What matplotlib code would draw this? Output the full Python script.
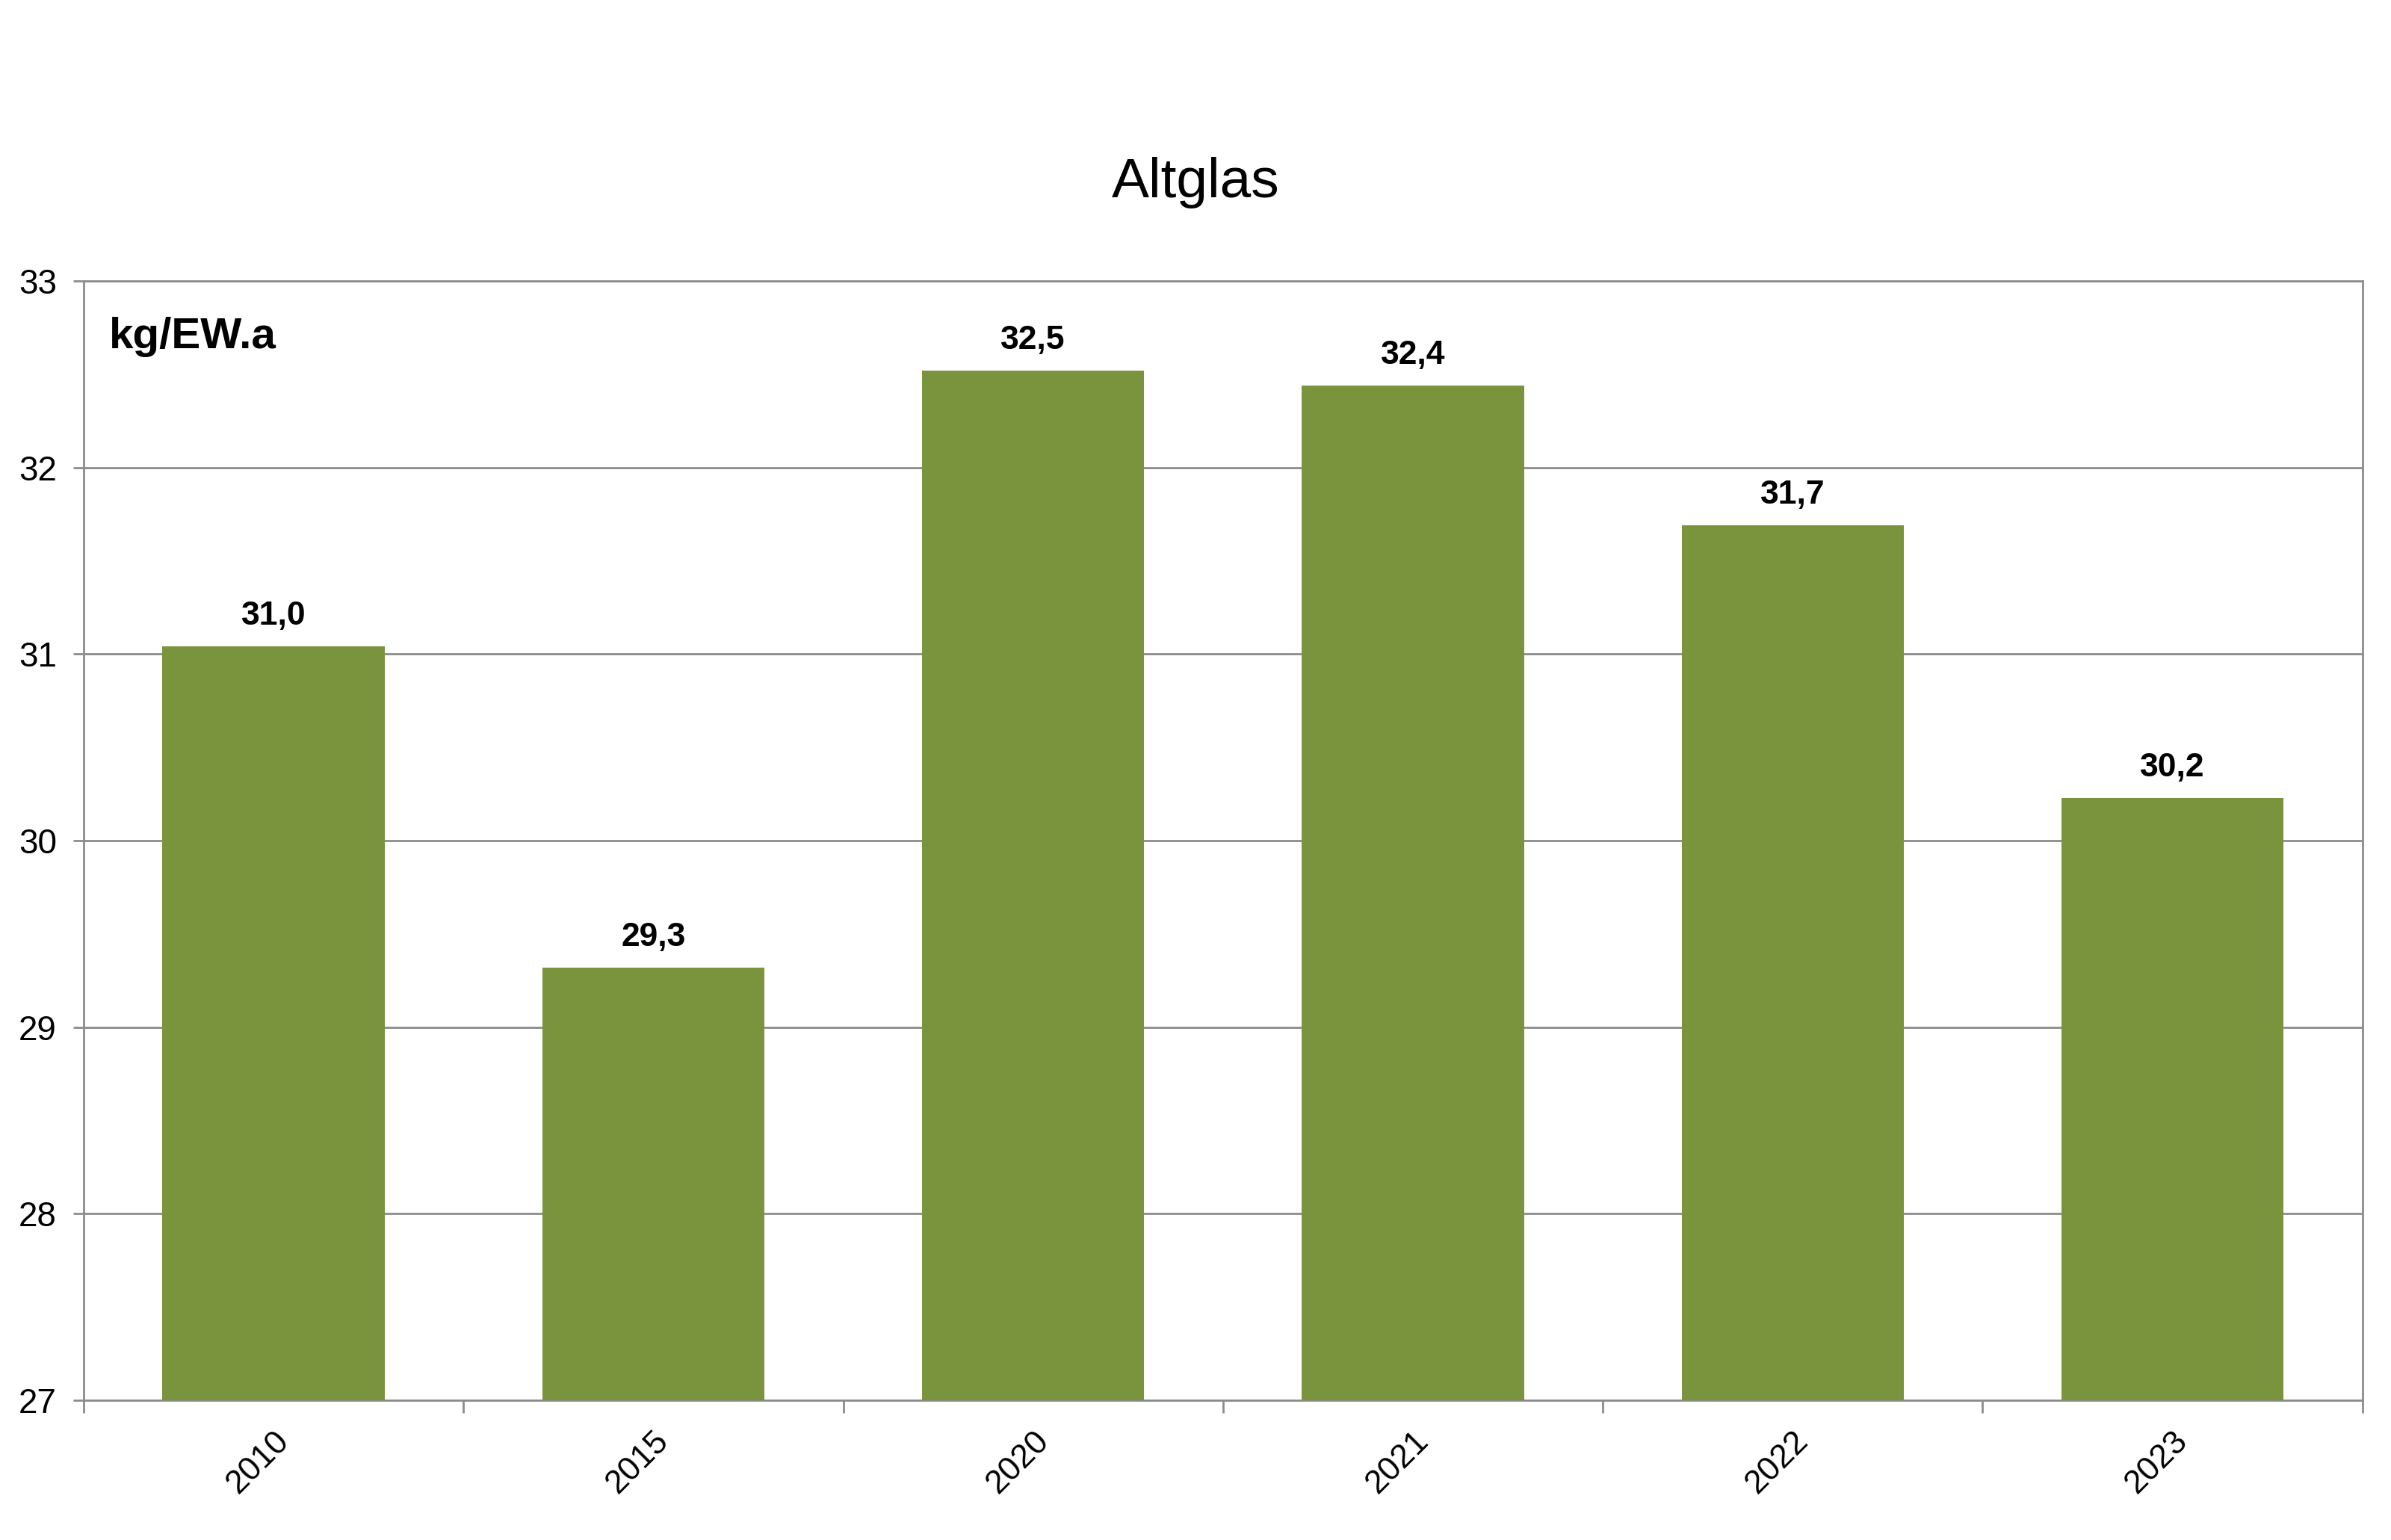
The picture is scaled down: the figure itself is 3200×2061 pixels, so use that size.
import matplotlib.pyplot as plt
import numpy as np

plt.rcParams['font.family'] = ['Liberation Sans', 'DejaVu Sans']

# data
years = ['2010', '2015', '2020', '2021', '2022', '2023']
values = [31.04, 29.32, 32.52, 32.44, 31.69, 30.23]
value_labels = ['31,0', '29,3', '32,5', '32,4', '31,7', '30,2']

bar_color = '#79943d'
grid_color = '#8c8c8c'

fig = plt.figure(figsize=(16, 10.305), dpi=200)
ax = fig.add_axes([0.035, 0.0907, 0.953, 0.7269])

x = np.arange(len(years))
ax.bar(x, [v - 27 for v in values], bottom=27, width=0.585, color=bar_color, zorder=3)

for xi, v, lab in zip(x, values, value_labels):
    ax.text(xi, v + 0.08, lab, ha='center', va='bottom', fontsize=16, fontweight='bold', zorder=4)

ax.set_ylim(27, 33)
ax.set_xlim(-0.5, len(years) - 0.5)
ax.set_yticks(range(27, 34))
ax.yaxis.grid(True, color=grid_color, linewidth=1.0, zorder=0)

# category ticks on boundaries, labels at centers
ax.set_xticks(np.arange(-0.5, len(years), 1.0))
ax.set_xticklabels([])
ax.set_xticks(x, minor=True)
ax.set_xticklabels(years, minor=True, rotation=45, ha='right', rotation_mode='anchor', fontsize=16)
ax.tick_params(axis='x', which='minor', length=0, pad=12)
ax.tick_params(axis='x', which='major', length=6, color=grid_color, width=1.0)
ax.tick_params(axis='y', length=5, color=grid_color, width=1.0, labelsize=16.5, pad=8)

for s in ax.spines.values():
    s.set_color(grid_color)
    s.set_linewidth(1.0)

ax.text(0.011, 0.968, 'kg/EW.a', transform=ax.transAxes, fontsize=21, fontweight='bold', ha='left', va='top')

fig.suptitle('Altglas', y=0.898, fontsize=27)

fig.savefig('out.png', dpi=200)
